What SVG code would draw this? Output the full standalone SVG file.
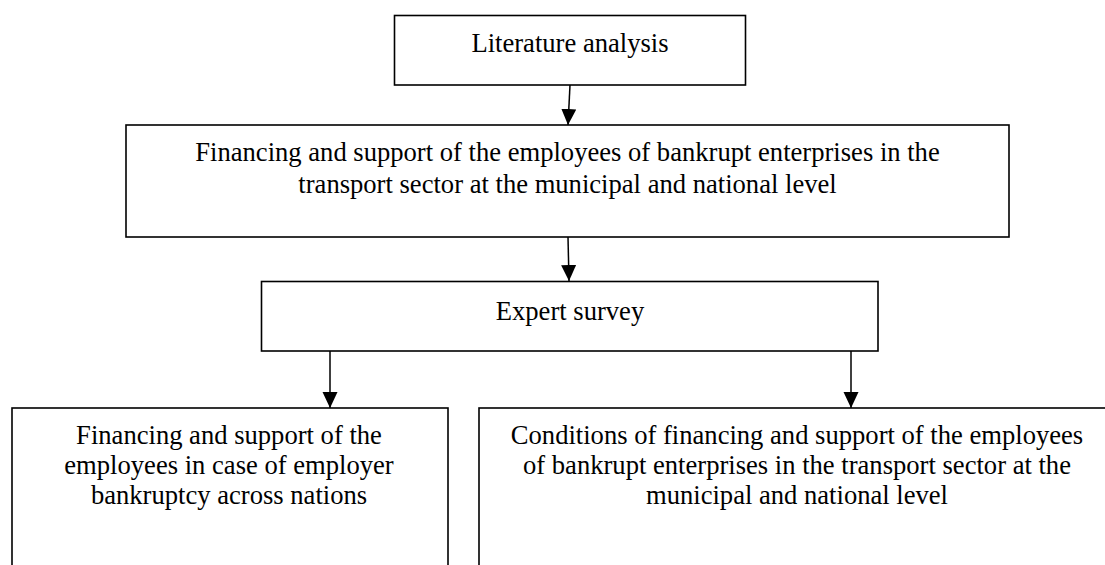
<svg xmlns="http://www.w3.org/2000/svg" width="1105" height="565" viewBox="0 0 1105 565">
<style>
.box{fill:#fff;stroke:#000;stroke-width:1.6}
.t{font-family:"Liberation Serif","Times New Roman",serif;font-size:26.6px;fill:#000;text-anchor:middle}
.c{stroke:#000;stroke-width:1.5;fill:none}
</style>
<defs>
<marker id="ah" markerUnits="userSpaceOnUse" markerWidth="16" markerHeight="16" refX="16" refY="7.5" orient="auto">
<path d="M0,0 L16,7.5 L0,15 Z" fill="#000"/>
</marker>
</defs>
<rect width="1105" height="565" fill="#fff"/>
<g id="n1">
<rect class="box" x="394.5" y="15.5" width="351" height="69.5"/>
<text class="t" x="570" y="52">Literature analysis</text>
</g>
<g id="n2">
<rect class="box" x="126" y="125" width="883" height="112"/>
<text class="t" x="567.5" y="161">Financing and support of the employees of bankrupt enterprises in the</text>
<text class="t" x="567.5" y="193">transport sector at the municipal and national level</text>
</g>
<g id="n3">
<rect class="box" x="261.5" y="281.5" width="616.5" height="69.5"/>
<text class="t" x="570" y="320">Expert survey</text>
</g>
<g id="n4">
<rect class="box" x="12" y="408" width="436" height="200"/>
<text class="t" x="229" y="444">Financing and support of the</text>
<text class="t" x="229" y="474">employees in case of employer</text>
<text class="t" x="229" y="504">bankruptcy across nations</text>
</g>
<g id="n5">
<rect class="box" x="479" y="408" width="700" height="200"/>
<text class="t" x="797" y="444">Conditions of financing and support of the employees</text>
<text class="t" x="797" y="474">of bankrupt enterprises in the transport sector at the</text>
<text class="t" x="797" y="504">municipal and national level</text>
</g>
<g id="connectors">
<line class="c" x1="570" y1="85" x2="568" y2="125" marker-end="url(#ah)"/>
<line class="c" x1="568" y1="237" x2="569" y2="281" marker-end="url(#ah)"/>
<line class="c" x1="330" y1="351" x2="330" y2="408" marker-end="url(#ah)"/>
<line class="c" x1="851" y1="351" x2="851" y2="408" marker-end="url(#ah)"/>
</g>
</svg>
